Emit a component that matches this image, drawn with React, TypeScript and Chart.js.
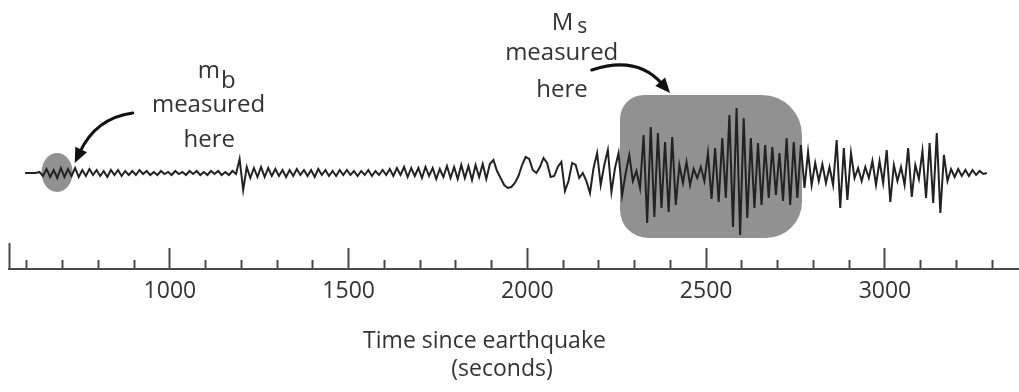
import React, { useEffect, useRef } from 'react';
import { Chart, registerables } from 'chart.js';

Chart.register(...registerables);

// ---- data ----
const sampleStart = 595; // seconds, first sample of the trace
const sampleStep = 10; // seconds between samples
const trace = [
  0, 0, 0, 0, 1, -3, 4, -4, 3, -5,
  5, -4, 4, -3, 5, -4, 3, -3, 4, -2,
  3, -3, 2, -4, 3, -2, 3, -3, 2, -2,
  2, -2, 3, -1, 2, -2, 1, -2, 2, -1,
  1, -2, 2, -1, 1, -2, 2, -1, 2, -2,
  1, -2, 2, -1, 2, -2, 1, -2, 2, -1,
  14, -17, 6, -5, 5, -4, 6, -4, 5, -3,
  4, -3, 3, -4, 3, -3, 4, -2, 3, -3,
  3, -4, 4, -2, 3, -3, 2, -3, 3, -2,
  3, -2, 2, -3, 2, -2, 3, -3, 2, -2,
  3, -2, 4, -3, 5, -2, 6, -4, 5, -3,
  5, -5, 6, -3, 5, -6, 4, -4, 7, -5,
  6, -6, 8, -5, 7, -7, 8, -4, 9, -6,
  9, 13, 2, -5, -12, -15, -14, -10, -3, 8,
  16, 14, 3, 0, 6, 15, 10, -4, -3, 6,
  11, -18, -8, 10, 8, -5, 0, -8, -20, 5,
  20, -12, 8, 23, -19, 5, 20, -22, 0, 18,
  -8, 2, -15, 38, -50, 46, -44, 40, -35, 31,
  -39, 36, -32, 8, -10, 11, -12, 4, -5, 6,
  -8, 20, -26, 25, -29, 35, -25, 58, -54, 65,
  -62, 55, -45, 35, -35, 30, -32, 28, -25, 26,
  -22, 20, -28, 35, -32, 31, -25, 28, -15, 21,
  -12, 10, -8, 9, -10, 6, -12, 33, -35, 25,
  -27, 20, -5, 5, -8, 6, -5, 12, -12, 12,
  -10, 23, -29, 8, -8, 6, -12, 25, -24, 8,
  -6, 22, -25, 30, -30, 40, -40, 18, -8, 4,
  -4, 4, -3, 3, -3, 3, -2, 2, -1, 0,
];
const axisMin = 550;
const axisMax = 3375;
const tickStep = 50;
const labelledTicks = [1000, 1500, 2000, 2500, 3000];
const axisTitle = ['Time since earthquake', '(seconds)'];
const mbWindow = [641, 728]; // seconds
const mbAmplitude = [-19, 20];
const msWindow = [2259, 2768]; // seconds
const msAmplitude = [-65, 78];

// ---- styling ----
const FONT = '"Open Sans", sans-serif';
const TEXT = '#333333';
const SHADE = '#919191';
const AXIS_BAND = 123; // height reserved below the plot for the time axis

type Pt = [number, number];

function px(chart: any, p: Pt): Pt {
  const { x, y } = chart.scales;
  return [x.getPixelForValue(p[0]), y.getPixelForValue(p[1])];
}

function drawArrow(ctx: CanvasRenderingContext2D, chart: any, from: Pt, ctrl: Pt, to: Pt) {
  const p0 = px(chart, from);
  const p1 = px(chart, ctrl);
  const p2 = px(chart, to);
  const ang = Math.atan2(p2[1] - p1[1], p2[0] - p1[0]);
  const len = 15;
  const half = 6.5;
  const bx = p2[0] - Math.cos(ang) * len * 0.8;
  const by = p2[1] - Math.sin(ang) * len * 0.8;
  ctx.save();
  ctx.strokeStyle = '#111';
  ctx.fillStyle = '#111';
  ctx.lineWidth = 3;
  ctx.lineCap = 'round';
  ctx.beginPath();
  ctx.moveTo(p0[0], p0[1]);
  ctx.quadraticCurveTo(p1[0], p1[1], bx, by);
  ctx.stroke();
  const baseX = p2[0] - Math.cos(ang) * len;
  const baseY = p2[1] - Math.sin(ang) * len;
  ctx.beginPath();
  ctx.moveTo(p2[0], p2[1]);
  ctx.lineTo(baseX + Math.sin(ang) * half, baseY - Math.cos(ang) * half);
  ctx.lineTo(baseX - Math.sin(ang) * half, baseY + Math.cos(ang) * half);
  ctx.closePath();
  ctx.fill();
  ctx.restore();
}

function drawText(ctx: CanvasRenderingContext2D, chart: any, str: string, at: Pt, align: CanvasTextAlign, size = 24) {
  const [x, y] = px(chart, at);
  ctx.font = `${size}px ${FONT}`;
  ctx.fillStyle = TEXT;
  ctx.textAlign = align;
  ctx.textBaseline = 'alphabetic';
  ctx.fillText(str, x, y);
  return x + (align === 'left' ? ctx.measureText(str).width : 0);
}

const annotationPlugin = {
  id: 'seismoAnnotations',
  beforeDatasetsDraw(chart: any) {
    const { ctx } = chart;
    ctx.save();
    ctx.fillStyle = SHADE;
    const [l1, t1] = px(chart, [mbWindow[0], mbAmplitude[1]]);
    const [r1, b1] = px(chart, [mbWindow[1], mbAmplitude[0]]);
    ctx.beginPath();
    ctx.ellipse((l1 + r1) / 2, (t1 + b1) / 2, (r1 - l1) / 2, (b1 - t1) / 2, 0, 0, Math.PI * 2);
    ctx.fill();
    const [l2, t2] = px(chart, [msWindow[0], msAmplitude[1]]);
    const [r2, b2] = px(chart, [msWindow[1], msAmplitude[0]]);
    ctx.beginPath();
    ctx.roundRect(l2, t2, r2 - l2, b2 - t2, [24, 40, 36, 28]);
    ctx.fill();
    ctx.restore();
  },
  afterDatasetsDraw(chart: any) {
    const { ctx } = chart;
    ctx.save();
    // m_b label
    const mEnd = drawText(ctx, chart, 'm', [1078, 95], 'left');
    ctx.font = `24px ${FONT}`;
    ctx.textAlign = 'left';
    ctx.fillText('b', mEnd + 1, chart.scales.y.getPixelForValue(95) + 10);
    drawText(ctx, chart, 'measured', [1108, 61], 'center');
    drawText(ctx, chart, 'here', [1110, 26], 'center');
    // M_s label
    const MEnd = drawText(ctx, chart, 'M', [2068, 143], 'left');
    ctx.font = `21px ${FONT}`;
    ctx.textAlign = 'left';
    ctx.fillText('s', MEnd + 4, chart.scales.y.getPixelForValue(143) + 3);
    drawText(ctx, chart, 'measured', [2096, 113], 'center');
    drawText(ctx, chart, 'here', [2097, 76], 'center');
    // arrows
    drawArrow(ctx, chart, [896, 60], [793, 55], [734, 10]);
    drawArrow(ctx, chart, [2180, 103], [2306, 118], [2399, 80]);
    // axis title
    drawText(ctx, chart, axisTitle[0], [1880, -175], 'center', 23);
    drawText(ctx, chart, axisTitle[1], [1929, -203], 'center', 23);
    ctx.restore();
  },
};

export default function App() {
  const ref = useRef<HTMLCanvasElement>(null);
  useEffect(() => {
    document.body.style.margin = '0';
    const points = trace.map((v, i) => ({ x: sampleStart + i * sampleStep, y: v }));
    const tickValue = (c: any) => (c && c.tick ? c.tick.value : NaN);
    const chart = new Chart(ref.current as HTMLCanvasElement, {
      type: 'line',
      data: {
        datasets: [
          {
            data: points,
            borderColor: '#222222',
            borderWidth: 2,
            pointRadius: 0,
            tension: 0,
            fill: false,
          },
        ],
      },
      options: {
        animation: false,
        responsive: true,
        maintainAspectRatio: false,
        events: [],
        layout: { padding: { left: 9, right: 0, top: 0, bottom: 0 } },
        plugins: { legend: { display: false }, tooltip: { enabled: false } },
        scales: {
          x: {
            type: 'linear',
            min: axisMin,
            max: axisMax,
            afterFit: (scale: any) => {
              scale.paddingLeft = 0;
              scale.paddingRight = 0;
              scale.height = AXIS_BAND;
            },
            border: { display: true, color: '#4a4a4a', width: 2 },
            grid: {
              drawOnChartArea: false,
              drawTicks: true,
              tickLength: -26,
              tickWidth: 2,
              tickColor: (c: any) => {
                const v = tickValue(c);
                return v === axisMin || v % 100 === 0 ? '#4a4a4a' : 'rgba(0,0,0,0)';
              },
              tickBorderDash: (c: any) => {
                const v = tickValue(c);
                if (v === axisMin) return [];
                if (v % 500 === 0) return [22, 80];
                return [10, 80];
              },
            },
            ticks: {
              stepSize: tickStep,
              autoSkip: false,
              includeBounds: false,
              maxRotation: 0,
              minRotation: 0,
              padding: 35,
              color: TEXT,
              font: { family: FONT, size: 23 },
              callback: (v: any) => (labelledTicks.includes(Number(v)) ? String(v) : ''),
            },
          },
          y: { type: 'linear', display: false, min: -96, max: 173 },
        },
      },
      plugins: [annotationPlugin],
    } as any);
    return () => chart.destroy();
  }, []);
  return (
    <div style={{ position: 'relative', width: 1019, height: 392 }}>
      <canvas ref={ref} />
    </div>
  );
}
